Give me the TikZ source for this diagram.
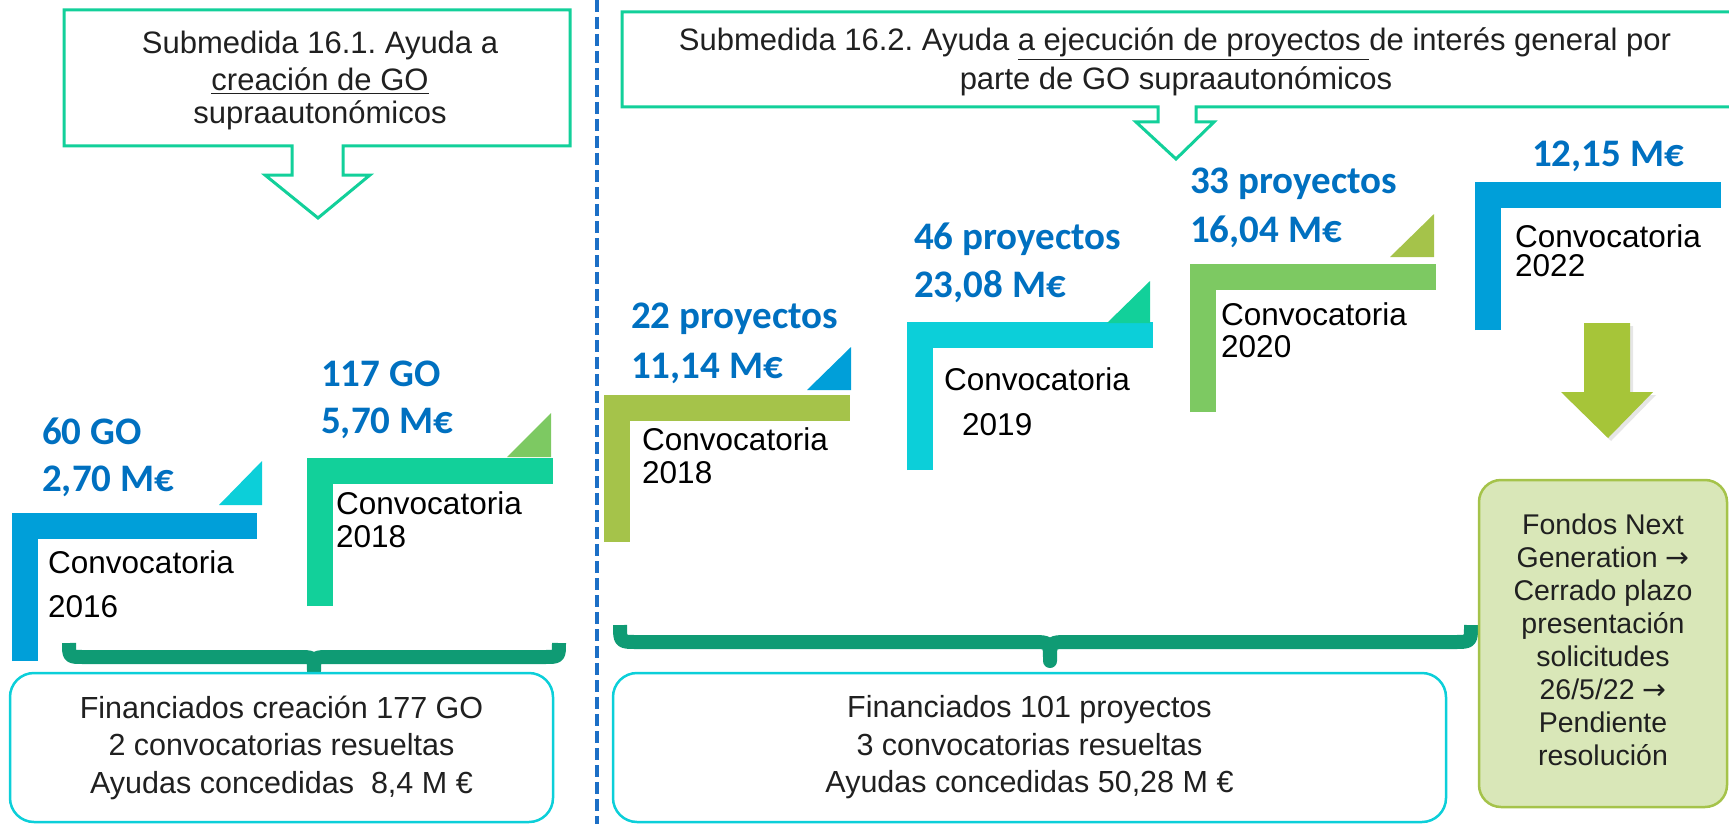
\documentclass[tikz,border=0pt]{standalone}
\usepackage{fontspec}
\setmainfont{Liberation Sans}
\newfontfamily\cifrafont{Carlito}
\newfontfamily\flechafont{DejaVu Sans}
\usetikzlibrary{shadows}
\frenchspacing

\definecolor{azulL}{HTML}{009FD9}
\definecolor{cianL}{HTML}{0CCFD9}
\definecolor{verdeL}{HTML}{12D09A}
\definecolor{verdeC}{HTML}{7DC962}
\definecolor{oliva}{HTML}{A5C34A}
\definecolor{azulTexto}{HTML}{0070C0}
\definecolor{grisTexto}{HTML}{202020}
\definecolor{verdeLlave}{HTML}{0F9B74}
\definecolor{azulRaya}{HTML}{1C6FC6}
\definecolor{fondoVerde}{HTML}{D9E7B8}
\definecolor{flechaVerde}{HTML}{A6C539}

\begin{document}
\begin{tikzpicture}[x=1pt,y=-1pt,
  conv bar/.style={line width=26pt},
  cifra/.style={anchor=base west,inner sep=0pt,text=azulTexto,
    font=\cifrafont\bfseries\fontsize{39}{39}\selectfont},
  conv text/.style={anchor=base west,inner sep=0pt,
    font=\fontsize{31.5}{31.5}\selectfont},
  head text/.style={anchor=base,inner sep=0pt,text=grisTexto,
    font=\fontsize{31}{31}\selectfont},
  callout/.style={draw=verdeL,line width=3pt,fill=white},
  llave/.style={draw=verdeLlave,line width=14pt,line join=round},
  result box/.style={draw=cianL,line width=2.5pt,rounded corners=24pt,
    fill=white,align=center,text=grisTexto,inner sep=0pt,
    font=\fontsize{30.5}{37.5}\selectfont}]
  \useasboundingbox (0,0) rectangle (1729,824);

  % cabeceras de las submedidas
  \draw[callout] (64,10) -- (570,10) -- (570,146) -- (343,146) -- (343,175)
    -- (370,175) -- (318,218) -- (265,175) -- (292,175) -- (292,146)
    -- (64,146) -- cycle;
  \draw[callout] (1729,12) -- (622,12) -- (622,107) -- (1158,107) -- (1158,122)
    -- (1136,122) -- (1176,159) -- (1214,122) -- (1196,122) -- (1196,107)
    -- (1729,107);
  \node[head text] (t1a) at (320,54) {Submedida 16.1. Ayuda a};
  \node[head text] (t1b) at (320,91) {\underline{creación de GO}};
  \node[head text] (t1c) at (320,124) {supraautonómicos};
  \node[head text] (t2a) at (1175,51)
    {Submedida 16.2. Ayuda \underline{a ejecución de proyectos\ }de interés general por};
  \node[head text] (t2b) at (1176,90) {parte de GO supraautonómicos};

  % separador
  \draw[azulRaya,line width=3.5pt,dash pattern=on 12pt off 5pt] (597,0) -- (597,824);

  % convocatorias
  \draw[conv bar,azulL] (24.5,661) |- (257,525.5);
  \fill[cianL] (219,505) -- (262,505) -- (262,461) -- cycle;
  \draw[conv bar,verdeL] (320,606) |- (553,471);
  \fill[verdeC] (507,457) -- (551,457) -- (551,413) -- cycle;
  \draw[conv bar,oliva] (617,542) |- (850,408);
  \fill[azulL] (807,390) -- (851,390) -- (851,347) -- cycle;
  \draw[conv bar,cianL] (920,470) |- (1153,335);
  \fill[verdeL] (1107,323) -- (1150,323) -- (1150,281) -- cycle;
  \draw[conv bar,verdeC] (1203,412) |- (1436,277);
  \fill[oliva] (1390,257) -- (1434,257) -- (1434,214) -- cycle;
  \draw[conv bar,azulL] (1488,330) |- (1721,195);

  \node[cifra] (go60) at (42,444) {60 GO};
  \node[cifra] (me2016) at (42,491) {2,70 M€};
  \node[cifra] (go117) at (321,386) {117 GO};
  \node[cifra] (me2018a) at (321,433) {5,70 M€};
  \node[cifra] (pr22) at (631,328) {22 proyectos};
  \node[cifra] (me2018b) at (631,378) {11,14 M€};
  \node[cifra] (pr46) at (914,249) {46 proyectos};
  \node[cifra] (me2019) at (914,297) {23,08 M€};
  \node[cifra] (pr33) at (1190,193) {33 proyectos};
  \node[cifra] (me2020) at (1190,242) {16,04 M€};
  \node[cifra] (me2022) at (1532,167) {12,15 M€};

  \node[conv text] (c2016a) at (48,573) {Convocatoria};
  \node[conv text] (c2016b) at (48,617) {2016};
  \node[conv text] (c2018a) at (336,514) {Convocatoria};
  \node[conv text] (c2018b) at (336,547) {2018};
  \node[conv text] (c2018c) at (642,450) {Convocatoria};
  \node[conv text] (c2018d) at (642,483) {2018};
  \node[conv text] (c2019a) at (944,390) {Convocatoria};
  \node[conv text] (c2019b) at (962,435) {2019};
  \node[conv text] (c2020a) at (1221,325) {Convocatoria};
  \node[conv text] (c2020b) at (1221,357) {2020};
  \node[conv text] (c2022a) at (1515,247) {Convocatoria};
  \node[conv text] (c2022b) at (1515,276) {2022};

  % llaves
  \draw[llave] (69,643) .. controls (69,657) .. (83,657) -- (298,657)
    .. controls (314,657) .. (314,671) .. controls (314,657) .. (330,657)
    -- (545,657) .. controls (559,657) .. (559,643);
  \draw[llave] (620,625) .. controls (620,642) .. (637,642) -- (1032,642)
    .. controls (1050,642) .. (1050,661) .. controls (1050,642) .. (1068,642)
    -- (1454,642) .. controls (1471,642) .. (1471,625);

  % resultados
  \node[result box,minimum width=543pt,minimum height=149pt] (res1) at (281.5,747.5)
    {Financiados creación 177 GO\\2 convocatorias resueltas\\Ayudas concedidas\ \ 8,4 M €};
  \node[result box,minimum width=833pt,minimum height=149pt] (res2) at (1029.5,747.5)
    {Financiados 101 proyectos\\3 convocatorias resueltas\\Ayudas concedidas 50,28 M €};

  \fill[flechaVerde,drop shadow={shadow xshift=3pt,shadow yshift=-3pt,opacity=0.2}]
    (1584,323) -- (1630,323) -- (1630,392) -- (1653,392) -- (1608,438)
    -- (1561,392) -- (1584,392) -- cycle;
  \node[draw=oliva,line width=2.5pt,fill=fondoVerde,rounded corners=22pt,
    minimum width=248pt,minimum height=327pt] (fondos) at (1603,643.5) {};
  \node[align=center,text=grisTexto,inner sep=0pt,yshift=4pt,
    font=\fontsize{28.5}{33}\selectfont] (fondosTxt) at (fondos.center)
    {Fondos Next\\Generation {\flechafont →}\\Cerrado plazo\\presentación\\solicitudes\\26/5/22 {\flechafont →}\\Pendiente\\resolución};
\end{tikzpicture}
\end{document}
